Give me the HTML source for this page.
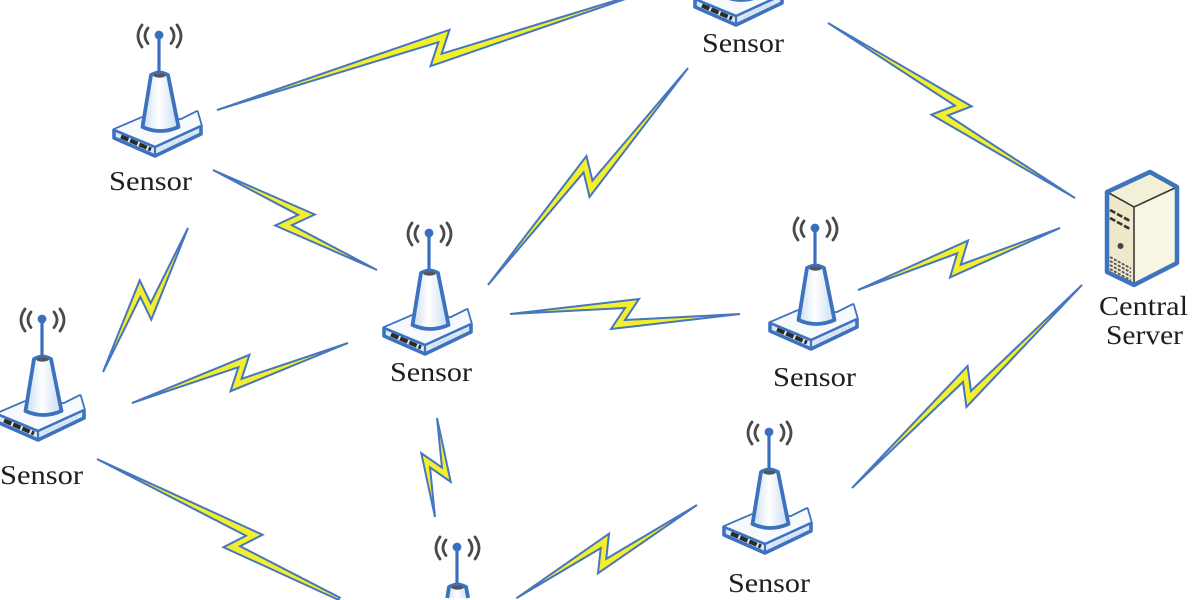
<!DOCTYPE html>
<html>
<head>
<meta charset="utf-8">
<style>
html,body{margin:0;padding:0;background:#fff;width:1200px;height:600px;overflow:hidden;}
svg{display:block;overflow:hidden;}
text{font-family:"Liberation Serif","DejaVu Serif",serif;fill:#1e1e1e;font-size:27px;}
</style>
</head>
<body>
<svg width="1200" height="600" viewBox="0 0 1200 600" xmlns="http://www.w3.org/2000/svg">
<defs>
  <linearGradient id="coneG" x1="0" y1="0" x2="1" y2="0">
    <stop offset="0" stop-color="#c9dcf2"/>
    <stop offset="0.45" stop-color="#ffffff"/>
    <stop offset="1" stop-color="#c9dcf2"/>
  </linearGradient>
  <g id="waves">
    <g fill="none" stroke="#4a4a4a" stroke-width="2.8" stroke-linecap="round">
      <path d="M-11,-7 Q-17,1 -11,8.5"/>
      <path d="M-17,-10 Q-25,1 -17,12"/>
      <path d="M12,-7 Q18,1 12,8.5"/>
      <path d="M18,-10 Q26,1 18,12"/>
    </g>
  </g>
  <g id="sensor">
    <use href="#waves"/>
    <!-- base -->
    <path d="M-17,83 L-45,95 L-45,103 L-4,121 L42,99 L42,91 L38,77 L22,85 Z" fill="#dce8f6" stroke="#3d72bf" stroke-width="3.6" stroke-linejoin="round"/>
    <path d="M-17,83 L-45,95 L-4,112 L42,91 L38,77 L22,85 Z" fill="#f6f9fd"/>
    <path d="M-45,95 L-4,112 L42,91" fill="none" stroke="#3d72bf" stroke-width="2.6" stroke-linejoin="round"/>
    <path d="M-4,112 L-4,121" stroke="#3d72bf" stroke-width="2.2"/>
    <path d="M-38,101.5 L-8,114.5" stroke="#2b2b2b" stroke-width="4.2" stroke-dasharray="8 2"/>
    <path d="M4,113 L36,98" stroke="#c9d6e6" stroke-width="1.2" stroke-dasharray="2 2"/>
    <!-- cone -->
    <path d="M-8,40 Q0.5,35 9,40 L19.5,92 Q1,100 -16.5,92 Z" fill="url(#coneG)" stroke="#3d72bf" stroke-width="3.8" stroke-linejoin="round"/>
    <ellipse cx="0.5" cy="40.5" rx="6" ry="2.2" fill="#555"/>
    <!-- stem & dot -->
    <line x1="0" y1="0" x2="0" y2="39" stroke="#3a6fc0" stroke-width="3.2"/>
    <circle cx="0" cy="0" r="4.4" fill="#3a6fc0"/>
  </g>
  <g id="sensorTop">
    <use href="#waves"/>
    <path d="M-8,40 Q0.5,35 9,40 L11.2,51 L-9.8,51 Z" fill="url(#coneG)"/>
    <path d="M-9.8,51 L-8,40 Q0.5,35 9,40 L11.2,51" fill="none" stroke="#3d72bf" stroke-width="3.8" stroke-linejoin="round"/>
    <ellipse cx="0.5" cy="40.5" rx="6" ry="2.2" fill="#555"/>
    <line x1="0" y1="0" x2="0" y2="39" stroke="#3a6fc0" stroke-width="3.2"/>
    <circle cx="0" cy="0" r="4.4" fill="#3a6fc0"/>
  </g>
</defs>

<rect width="1200" height="600" fill="#fff"/>

<!-- lightning links -->
<g fill="#f4ef2c" stroke="#4676bf" stroke-width="2" stroke-linejoin="miter">
  <polygon transform="translate(440,48) rotate(-15.54)" points="-231.5,0 14,-15 0,6 231.5,0 -14,15 0,-6"/>
  <polygon transform="translate(951.5,110.5) rotate(35.32)" points="-151.4,0 14,-15 0,6 151.4,0 -14,15 0,-6"/>
  <polygon transform="translate(295,220) rotate(31.37)" points="-96,0 14,-15 0,6 96,0 -14,15 0,-6"/>
  <polygon transform="translate(145.5,300) rotate(120.55)" points="-83.6,0 14,-15 0,6 83.6,0 -14,15 0,-6"/>
  <polygon transform="translate(240,373) rotate(-15.52)" points="-112.1,0 14,-15 0,6 112.1,0 -14,15 0,-6"/>
  <polygon transform="translate(588,176.5) rotate(-47.33)" points="-147.6,0 14,-15 0,6 147.6,0 -14,15 0,-6"/>
  <polygon transform="translate(625,314) rotate(0)" points="-115,0 14,-15 0,6 115,0 -14,15 0,-6"/>
  <polygon transform="translate(959,259) rotate(-17.06)" points="-105.7,0 14,-15 0,6 105.7,0 -14,15 0,-6"/>
  <polygon transform="translate(967,386.5) rotate(138.57)" points="-153.4,0 14,-15 0,6 153.4,0 -14,15 0,-6"/>
  <polygon transform="translate(436,467.5) rotate(91.16)" points="-49.5,0 14,-15 0,6 49.5,0 -14,15 0,-6"/>
  <polygon transform="translate(603.5,553.5) rotate(152.58)" points="-105.3,0 14,-15 0,6 98,0.4 -14,15 0,-6"/>
  <polygon transform="translate(243,541) rotate(29.32)" points="-167.5,0 14,-15 0,6 112,1.99 112,4.59 -14,15 0,-6"/>
</g>

<!-- sensors -->
<use href="#sensor" transform="translate(159,35)"/>
<use href="#sensor" transform="translate(740,-96)"/>
<use href="#sensor" transform="translate(429,233)"/>
<use href="#sensor" transform="translate(815,228)"/>
<use href="#sensor" transform="translate(42,319)"/>
<use href="#sensor" transform="translate(769,432)"/>
<use href="#sensorTop" transform="translate(457,547)"/>

<!-- central server -->
<g>
  <path d="M1107,192 L1150,172 L1177,187 L1134,207 Z" fill="#f3f0d8"/>
  <path d="M1107,192 L1134,207 L1134,285 L1107,272 Z" fill="#ece8c9"/>
  <path d="M1134,207 L1177,187 L1177,263 L1134,285 Z" fill="#f8f6e3"/>
  <path d="M1107,192 L1134,207 L1177,187 M1134,207 L1134,285" fill="none" stroke="#3a3a3a" stroke-width="1.6"/>
  <path d="M1107,192 L1150,172 L1177,187 L1177,263 L1134,285 L1107,272 Z" fill="none" stroke="#3e73bd" stroke-width="4.5" stroke-linejoin="round"/>
  <g stroke="#333" stroke-width="2.6" stroke-dasharray="6 2">
    <line x1="1110" y1="210" x2="1131" y2="221.5"/>
    <line x1="1110" y1="218" x2="1131" y2="229.5"/>
  </g>
  <circle cx="1120.5" cy="246" r="3" fill="#444"/>
  <g stroke="#555" stroke-width="1.8" stroke-dasharray="3 1.5">
    <line x1="1110" y1="257" x2="1131" y2="268.5"/>
    <line x1="1110" y1="261" x2="1131" y2="272.5"/>
    <line x1="1110" y1="265" x2="1131" y2="276.5"/>
    <line x1="1110" y1="269" x2="1131" y2="280.5"/>
  </g>
</g>

<!-- labels -->
<text x="109" y="190" textLength="83" lengthAdjust="spacingAndGlyphs">Sensor</text>
<text x="702" y="52" textLength="82" lengthAdjust="spacingAndGlyphs">Sensor</text>
<text x="390" y="381" textLength="82" lengthAdjust="spacingAndGlyphs">Sensor</text>
<text x="773" y="386" textLength="83" lengthAdjust="spacingAndGlyphs">Sensor</text>
<text x="0" y="484" textLength="83" lengthAdjust="spacingAndGlyphs">Sensor</text>
<text x="728" y="592" textLength="82" lengthAdjust="spacingAndGlyphs">Sensor</text>
<text x="1099" y="315" textLength="89" lengthAdjust="spacingAndGlyphs">Central</text>
<text x="1106" y="344" textLength="77" lengthAdjust="spacingAndGlyphs">Server</text>
</svg>
</body>
</html>
